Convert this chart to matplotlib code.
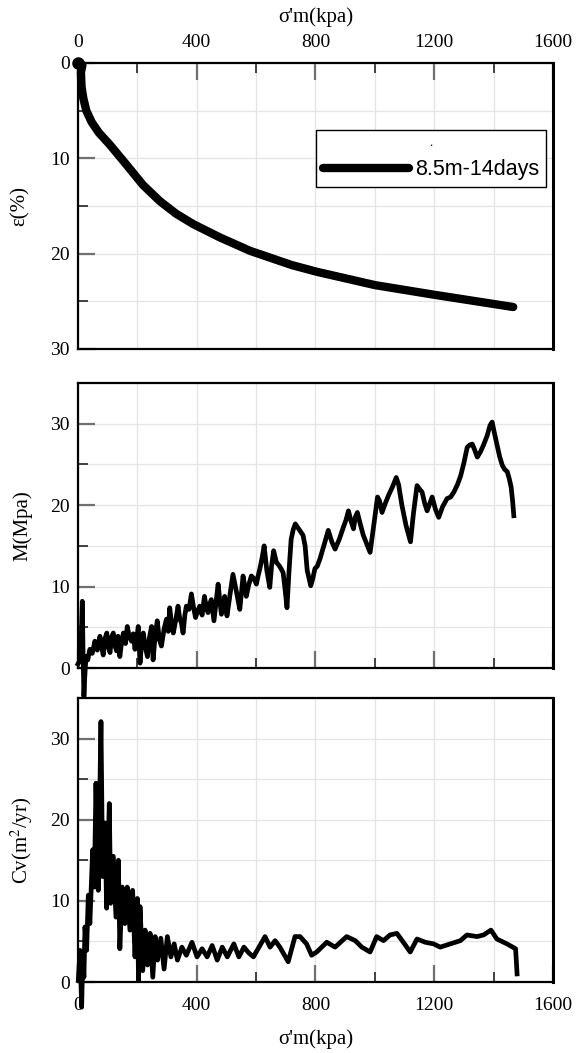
import matplotlib
matplotlib.use("Agg")
import matplotlib.pyplot as plt
from matplotlib.ticker import MultipleLocator

# strain curve (top panel)
eps_sigma = [0, 8, 15, 10, 12, 18, 28, 46, 70, 108, 164, 219, 276, 330, 388, 478,
             579, 720, 804, 1000, 1197, 1466]
eps_vals = [0, 0.1, 0.2, 1.0, 2.5, 3.7, 5.0, 6.2, 7.3, 8.6, 10.7, 12.8, 14.5, 15.8,
            16.9, 18.3, 19.7, 21.2, 21.9, 23.3, 24.3, 25.6]

# constrained modulus M (middle panel)
M_sigma = [0, 7, 12, 14.6, 17, 20, 23, 27, 33, 40, 48, 57, 65, 74, 80, 85, 91, 97,
           102, 108, 113, 119, 124, 130, 135, 141, 147, 153, 160, 166, 172, 180, 186,
           192, 198, 203, 209, 214, 220, 227, 234, 240, 248, 253, 260, 267, 274, 281,
           290, 298, 304, 309, 315, 321, 330, 337, 343, 348, 354, 360, 365, 374, 382,
           389, 396, 403, 410, 418, 426, 432, 438, 444, 449, 454, 458, 465, 472, 478,
           483, 489, 494, 498, 502, 512, 522, 533, 545, 550, 556, 562, 567, 575, 584,
           592, 601, 606, 612, 620, 627, 636, 646, 652, 659, 668, 677, 684, 691, 698,
           704, 711, 718, 725, 732, 745, 758, 765, 772, 784, 791, 798, 806, 815, 828,
           843, 855, 866, 880, 894, 903, 911, 920, 928, 934, 941, 950, 961, 972, 984,
           996, 1009, 1016, 1024, 1035, 1046, 1060, 1072, 1080, 1091, 1105, 1120, 1130,
           1142, 1150, 1159, 1168, 1176, 1185, 1193, 1204, 1215, 1228, 1243, 1255,
           1266, 1278, 1289, 1300, 1311, 1320, 1328, 1336, 1345, 1355, 1365, 1378,
           1388, 1395, 1403, 1412, 1420, 1429, 1437, 1446, 1453, 1459, 1464, 1468]
M_vals = [0.5, 1.0, 5.0, 8.2, 2.0, -3.5, -1.0, 1.4, 1.0, 2.3, 1.8, 3.3, 2.2, 3.9, 2.5,
          1.6, 3.6, 4.3, 2.6, 1.9, 3.8, 4.3, 2.8, 2.1, 3.9, 1.4, 3.2, 4.3, 3.0, 5.1,
          4.0, 3.3, 4.2, 2.3, 3.6, 5.1, 0.6, 3.0, 4.3, 2.5, 1.4, 3.6, 5.1, 1.0, 4.0,
          5.8, 3.5, 2.7, 4.8, 6.0, 4.5, 7.4, 5.5, 4.3, 6.0, 7.6, 6.0, 5.6, 4.3, 6.5,
          7.6, 7.2, 9.1, 7.5, 6.2, 7.0, 7.6, 6.5, 8.8, 7.5, 6.8, 7.9, 8.4, 7.0, 5.8,
          8.0, 10.3, 8.2, 6.6, 7.8, 8.8, 7.2, 6.4, 9.0, 11.5, 9.5, 7.2, 9.0, 11.3,
          10.0, 8.8, 10.2, 11.3, 11.0, 10.3, 11.2, 12.1, 13.5, 15.0, 12.0, 9.9, 12.5,
          14.4, 13.0, 12.6, 12.2, 11.7, 9.5, 7.4, 12.0, 15.8, 17.0, 17.7, 17.0, 16.3,
          15.0, 12.0, 10.1, 11.0, 12.2, 12.5, 13.4, 15.0, 16.9, 15.5, 14.6, 15.8,
          17.3, 18.2, 19.3, 18.0, 17.1, 18.5, 19.1, 17.8, 16.3, 15.3, 14.2, 17.5,
          21.0, 20.5, 19.1, 20.2, 21.2, 22.3, 23.4, 22.5, 20.0, 17.5, 15.5, 19.0,
          22.4, 22.0, 21.6, 20.2, 19.3, 20.2, 21.0, 19.5, 18.5, 19.8, 20.8, 21.0,
          21.6, 22.5, 23.6, 25.2, 27.1, 27.4, 27.5, 26.8, 25.9, 26.5, 27.3, 28.5,
          29.8, 30.2, 28.8, 27.3, 26.0, 24.9, 24.4, 24.1, 23.2, 22.2, 20.5, 18.7]

# coefficient of consolidation Cv (bottom panel)
cv_sigma = [1, 7, 12.4, 16, 20, 23.6, 29, 34.8, 40, 49.4, 55, 60.6, 68.4, 77.4, 83,
            91, 96.5, 105.5, 110, 119, 128, 136, 141, 149, 158, 166, 175, 184, 192,
            200, 204, 209, 218, 226, 234, 243, 252, 260, 268, 279, 290, 301, 313, 324,
            335, 350, 365, 384, 401, 418, 435, 452, 469, 486, 503, 525, 542, 559, 575,
            591, 630, 647, 664, 680, 708, 731, 748, 770, 787, 804, 838, 866, 905, 934,
            956, 984, 1006, 1029, 1051, 1074, 1096, 1119, 1142, 1170, 1198, 1220, 1254,
            1288, 1310, 1344, 1366, 1391, 1411, 1445, 1474, 1479]
cv_vals = [0.2, 3.9, -3.1, 3.1, 0.6, 6.8, 3.9, 10.7, 7.2, 16.3, 11.7, 24.5, 11.3,
           32.1, 13.0, 19.6, 9.1, 22.0, 9.7, 15.5, 8.0, 15.0, 4.1, 11.7, 7.2, 11.7,
           6.4, 11.3, 3.1, 10.3, 0.2, 9.3, 1.4, 6.4, 2.1, 6.0, 0.6, 5.6, 2.7, 5.4, 1.6,
           5.6, 3.1, 4.7, 2.7, 4.3, 3.3, 4.9, 3.1, 4.1, 3.1, 4.5, 2.7, 4.3, 3.1, 4.7,
           3.1, 4.3, 3.6, 3.1, 5.6, 4.3, 5.1, 4.3, 2.5, 5.6, 5.6, 4.7, 3.3, 3.7, 4.9,
           4.3, 5.6, 5.1, 4.3, 3.7, 5.6, 5.1, 5.8, 6.0, 4.9, 3.7, 5.3, 4.9, 4.7, 4.3,
           4.7, 5.1, 5.8, 5.6, 5.8, 6.4, 5.3, 4.7, 4.1, 1.0]

x_ticks = [0, 400, 800, 1200, 1600]
y_ticks = [0, 10, 20, 30]

plt.rcParams['font.family'] = ['Liberation Serif', 'DejaVu Serif']
plt.rcParams['mathtext.fontset'] = 'stix'

fig = plt.figure(figsize=(5.85, 10.53), dpi=100)
left, width = 0.1333, 0.812
ax1 = fig.add_axes([left, 0.6686, width, 0.2716])
ax2 = fig.add_axes([left, 0.3656, width, 0.2707])
ax3 = fig.add_axes([left, 0.0674, width, 0.2697])

for ax in (ax1, ax2, ax3):
    ax.set_xlim(0, 1600)
    ax.set_xticks(x_ticks)
    ax.xaxis.set_minor_locator(MultipleLocator(200))
    ax.set_yticks(y_ticks)
    ax.yaxis.set_minor_locator(MultipleLocator(5))
    ax.grid(True, which='both', color='#e4e4e4', lw=0.9)
    ax.set_axisbelow(True)
    ax.tick_params(which='major', direction='in', length=12, width=1.6,
                   color='#707070', labelsize=14)
    ax.tick_params(which='minor', direction='in', length=7, width=1.4, color='#404040')
    ax.tick_params(axis='y', which='both', left=True, right=False, pad=6)
    for s in ax.spines.values():
        s.set_linewidth(1.6)
    ax.spines['right'].set_linewidth(2.2)

# top panel
ax1.plot(eps_sigma, eps_vals, color='black', lw=6, solid_capstyle='round',
         solid_joinstyle='round', clip_on=False, label='8.5m-14days')
ax1.plot(eps_sigma[:1], eps_vals[:1], 'o', color='black', ms=8, clip_on=False)
ax1.set_ylim(30, 0)
ax1.tick_params(axis='x', which='both', top=True, bottom=False, labeltop=True,
                labelbottom=False, pad=8.5)
ax1.xaxis.set_label_position('top')
ax1.set_xlabel("σ'm(kpa)", fontsize=15)
ax1.xaxis.set_label_coords(0.5, 1.145)
ax1.set_ylabel('ε(%)', fontsize=15)
ax1.yaxis.set_label_coords(-0.101, 0.5)
leg = ax1.legend(loc='upper right', bbox_to_anchor=(0.985, 0.765), title='.',
                 prop={'family': 'Liberation Sans', 'size': 15.5},
                 title_fontsize=9, fancybox=False, edgecolor='black',
                 framealpha=1, handlelength=4.0, borderpad=0.3,
                 handletextpad=0.3, borderaxespad=0)
leg.get_frame().set_linewidth(1.0)

# middle panel
ax2.plot(M_sigma, M_vals, color='black', lw=3.4, solid_joinstyle='round',
         clip_on=False)
ax2.set_ylim(0, 35)
ax2.tick_params(axis='x', which='both', top=False, bottom=True, labelbottom=False)
ax2.set_ylabel('M(Mpa)', fontsize=15)
ax2.yaxis.set_label_coords(-0.095, 0.5)

# bottom panel
ax3.plot(cv_sigma, cv_vals, color='black', lw=3.4, solid_joinstyle='round',
         clip_on=False)
ax3.set_ylim(0, 35)
ax3.tick_params(axis='x', which='both', top=False, bottom=True, pad=11)
ax3.set_xlabel("σ'm(kpa)", fontsize=15)
ax3.xaxis.set_label_coords(0.5, -0.165)
ax3.set_ylabel('Cv(m$^2$/yr)', fontsize=15)
ax3.yaxis.set_label_coords(-0.091, 0.5)

fig.savefig('out.png', dpi=100)
